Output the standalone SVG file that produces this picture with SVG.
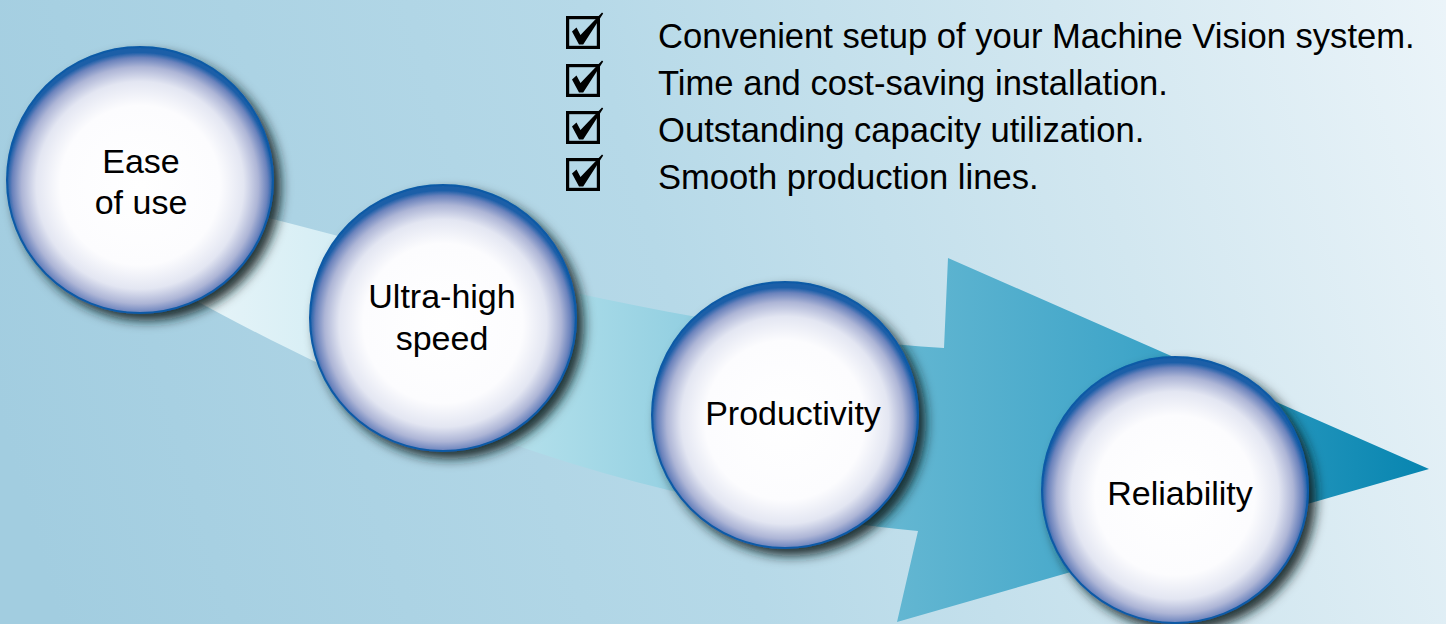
<svg xmlns="http://www.w3.org/2000/svg" width="1446" height="624" viewBox="0 0 1446 624">
  <defs>
    <linearGradient id="bg" gradientUnits="userSpaceOnUse" x1="0" y1="420" x2="1446" y2="0">
      <stop offset="0" stop-color="#a2cde0"/>
      <stop offset="0.45" stop-color="#b6d9e8"/>
      <stop offset="0.75" stop-color="#d2e7f0"/>
      <stop offset="1" stop-color="#ebf4f9"/>
    </linearGradient>
    <linearGradient id="arrowFill" gradientUnits="userSpaceOnUse" x1="200" y1="0" x2="1430" y2="0">
      <stop offset="0" stop-color="#e6f4f8"/>
      <stop offset="0.12" stop-color="#d4edf4"/>
      <stop offset="0.3" stop-color="#a9dbe8"/>
      <stop offset="0.4" stop-color="#92cfe1"/>
      <stop offset="0.56" stop-color="#64b7d2"/>
      <stop offset="0.75" stop-color="#41a6c9"/>
      <stop offset="1" stop-color="#0785b0"/>
    </linearGradient>
    <radialGradient id="ball" cx="0.5" cy="0.52" r="0.5">
      <stop offset="0" stop-color="#ffffff"/>
      <stop offset="0.6" stop-color="#fcfcfe"/>
      <stop offset="0.78" stop-color="#e3e6f2"/>
      <stop offset="0.89" stop-color="#adb5d6"/>
      <stop offset="0.96" stop-color="#6a82bc"/>
      <stop offset="1" stop-color="#1a5ea8"/>
    </radialGradient>
    <filter id="shadow" x="-20%" y="-20%" width="150%" height="150%">
      <feDropShadow dx="7" dy="7" stdDeviation="6" flood-color="#0d1a1f" flood-opacity="0.9"/>
    </filter>
    <g id="tick">
      <rect x="1.6" y="1.6" width="30.8" height="29.8" fill="none" stroke="#000" stroke-width="3.2"/>
      <path d="M6,15.5 L10.5,11.5 L14.5,19 L36,-3.5 L37.2,-2.5 L17.2,28.5 L13,28.5 Z" fill="#000"/>
    </g>
  </defs>
  <style>
    .lbl { font-family: "Liberation Sans", Arial, Helvetica, sans-serif; font-size: 34px; fill: #000; text-anchor: middle; }
    .item { font-family: "Liberation Sans", Arial, Helvetica, sans-serif; font-size: 34.6px; fill: #000; }
    .ball { fill: url(#ball); stroke: #0a5aa6; stroke-width: 2; }
  </style>

  <rect x="0" y="0" width="1446" height="624" fill="url(#bg)"/>

  <g id="connectors">
    <path id="big-arrow" d="M230,208 C470,270 704,332 944,348 L948,258 L1429,469 L897,622 L918,531 C668,506 460,446 180,292 Z" fill="url(#arrowFill)"/>
  </g>

  <g id="checklist">
    <use href="#tick" x="566" y="16"/>
    <use href="#tick" x="566" y="64"/>
    <use href="#tick" x="566" y="111"/>
    <use href="#tick" x="566" y="158"/>
    <text class="item" x="658" y="48">Convenient setup of your Machine Vision system.</text>
    <text class="item" x="658" y="95">Time and cost-saving installation.</text>
    <text class="item" x="658" y="142">Outstanding capacity utilization.</text>
    <text class="item" x="658" y="189">Smooth production lines.</text>
  </g>

  <g id="node-ease">
    <circle class="ball" cx="140" cy="180" r="133" filter="url(#shadow)"/>
    <text class="lbl" x="141" y="173">Ease</text>
    <text class="lbl" x="141" y="214">of use</text>
  </g>
  <g id="node-speed">
    <circle class="ball" cx="443" cy="318" r="133" filter="url(#shadow)"/>
    <text class="lbl" x="442" y="308">Ultra-high</text>
    <text class="lbl" x="442" y="350">speed</text>
  </g>
  <g id="node-productivity">
    <circle class="ball" cx="785" cy="415" r="133" filter="url(#shadow)"/>
    <text class="lbl" x="793" y="425">Productivity</text>
  </g>
  <g id="node-reliability">
    <circle class="ball" cx="1175" cy="490" r="133" filter="url(#shadow)"/>
    <text class="lbl" x="1180" y="505">Reliability</text>
  </g>
</svg>
